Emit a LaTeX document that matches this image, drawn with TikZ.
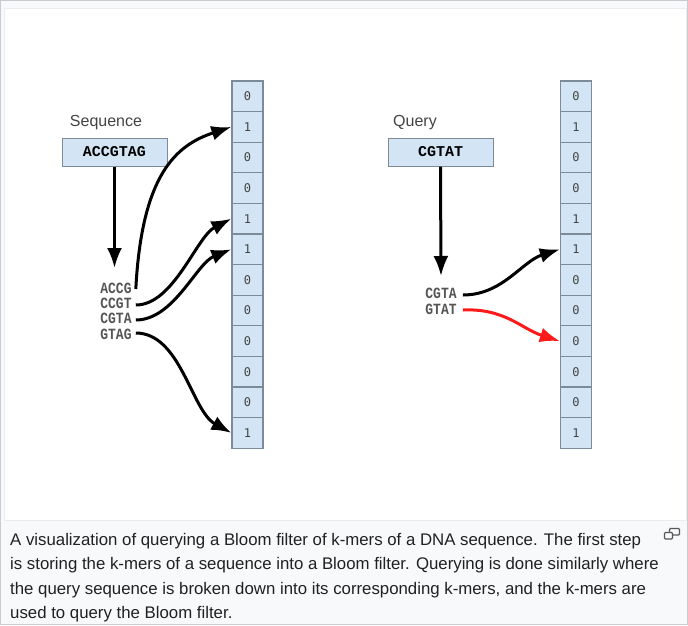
\documentclass[tikz,border=0pt]{standalone}
\usepackage{fontspec}
\setmainfont{Liberation Sans}
\newfontfamily\capfont{Liberation Sans}
\newfontfamily\cellfont{DejaVu Sans Mono}
\newfontfamily\seqfont{Liberation Mono}
\usetikzlibrary{arrows.meta}
\definecolor{bgcol}{HTML}{F8F9FA}
\definecolor{framecol}{HTML}{C8CCD1}
\definecolor{innerline}{HTML}{EAECF0}
\definecolor{cellblue}{HTML}{D3E5F5}
\definecolor{cellline}{HTML}{7D8B99}
\definecolor{txtgray}{HTML}{444444}
\definecolor{kmergray}{HTML}{555555}
\definecolor{captxt}{HTML}{202122}
\definecolor{arrred}{HTML}{FF1A1A}
\tikzset{
  cell/.style={rectangle, draw=cellline, fill=cellblue, line width=1.3pt,
    minimum width=31pt, minimum height=30.6pt, inner sep=0pt,
    font=\cellfont\fontsize{12}{13}\selectfont, text=txtgray},
  seqbox/.style={rectangle, draw=cellline, fill=cellblue, line width=1pt,
    minimum width=105pt, minimum height=28pt, inner sep=0pt,
    font=\seqfont\bfseries\fontsize{15}{16}\selectfont, text=black},
  lbl/.style={font=\fontsize{16}{18}\selectfont, text=txtgray, inner sep=0pt},
  kmer/.style={font=\seqfont\bfseries\fontsize{13}{14}\selectfont, text=kmergray, inner sep=2pt},
  arr/.style={line width=3pt, -{Latex[length=20pt,width=15pt]}},
  redarr/.style={arr, draw=arrred, -{Latex[length=20pt,width=15pt,fill=arrred]}},
  capline/.style={anchor=base west, inner sep=0pt, text=captxt,
    font=\capfont\fontsize{16.8}{20}\selectfont}
}
\begin{document}
\begin{tikzpicture}[x=1pt,y=-1pt]
\useasboundingbox (0,0) rectangle (688,625);
\fill[bgcol] (0,0) rectangle (688,625);
\draw[framecol, line width=1pt] (0.5,0.5) rectangle (687.5,624.5);
\filldraw[fill=white, draw=innerline, line width=1pt] (4.5,8.5) rectangle (686,520);

% Bloom filter arrays
\foreach \v [count=\i from 0] in {0,1,0,0,1,1,0,0,0,0,0,1}
  \node[cell] (L\i) at (247.5, 96.3+30.6*\i) {\v};
\foreach \v [count=\i from 0] in {0,1,0,0,1,1,0,0,0,0,0,1}
  \node[cell] (R\i) at (576, 96.3+30.6*\i) {\v};

% Left: sequence
\node[lbl] (seqlbl) at (106,123) {Sequence};
\node[seqbox] (seq) at (114.5,152) {ACCGTAG};
\coordinate (seqend) at (114.5,268);
\draw[arr] (seq.south) -- (seqend);

\node[kmer] (k1) at (116,288) {\scalebox{1}[1.2]{ACCG}};
\node[kmer] (k2) at (116,303) {\scalebox{1}[1.2]{CCGT}};
\node[kmer] (k3) at (116,318) {\scalebox{1}[1.2]{CGTA}};
\node[kmer] (k4) at (116,334) {\scalebox{1}[1.2]{GTAG}};

\draw[arr] ([xshift=2pt,yshift=-1pt]k1.east) .. controls +(6,-115) and +(-55,18) .. (L1.west);
\draw[arr] ([xshift=2pt,yshift=-2pt]k2.east) .. controls +(38,0) and +(-35,18) .. (L4.west);
\draw[arr] ([xshift=2pt,yshift=-2pt]k3.east) .. controls +(38,0) and +(-35,14) .. (L5.west);
\draw[arr] ([xshift=2pt,yshift=1pt]k4.east) .. controls +(45,0) and +(-40,-22) .. (L11.west);

% Right: query
\node[lbl] (qlbl) at (415,123) {Query};
\node[seqbox] (q) at (440.5,152) {CGTAT};
\coordinate (qend) at (441,276);
\draw[arr] (q.south) -- (qend);

\node[kmer] (q1) at (441,293) {\scalebox{1}[1.2]{CGTA}};
\node[kmer] (q2) at (441,309) {\scalebox{1}[1.2]{GTAT}};

\draw[arr] ([xshift=4pt,yshift=-2pt]q1.east) .. controls +(40,0) and +(-38,12) .. (R5.west);
\draw[redarr] ([xshift=4pt,yshift=-1pt]q2.east) .. controls +(42,-2) and +(-38,-12) .. (R8.west);

% Caption
\node[capline] (c1) at (10,545) {A visualization of querying a Bloom filter of k-mers of a DNA sequence. The first step};
\node[capline] (c2) at (10,569.5) {is storing the k-mers of a sequence into a Bloom filter. Querying is done similarly where};
\node[capline] (c3) at (10,594) {the query sequence is broken down into its corresponding k-mers, and the k-mers are};
\node[capline] (c4) at (10,618) {used to query the Bloom filter.};

% enlarge icon
\draw[color=captxt!75, line width=1.1pt, rounded corners=1pt] (669.5,528.5) rectangle (679.5,535);
\filldraw[fill=bgcol, draw=captxt!75, line width=1.1pt, rounded corners=1pt] (664.5,532.5) rectangle (672.5,539);
\end{tikzpicture}
\end{document}
